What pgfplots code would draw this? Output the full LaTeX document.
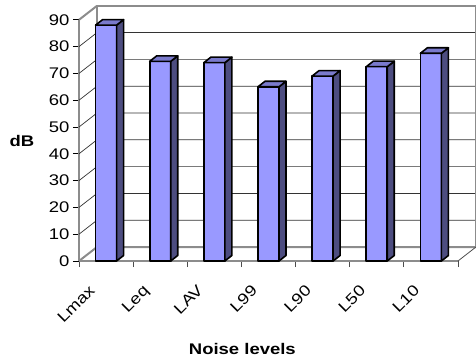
\documentclass[border=0pt]{standalone}
\usepackage{pgfplots}
\pgfplotsset{compat=1.18}
\usepackage{pgfplotstable}
\usepackage{fontspec}
\setmainfont{Liberation Sans}
\definecolor{barfront}{HTML}{9999FF}
\definecolor{bartop}{HTML}{7A7ACC}
\definecolor{barside}{HTML}{4D4D80}
\definecolor{wallgray}{HTML}{8C8C8C}

\pgfplotstableread{
x v
0.5 88
1.5 74.5
2.5 74
3.5 65
4.5 69
5.5 72.5
6.5 77.5
}\noisedata

\newcommand{\sx}[1]{\scalebox{1.2}[1]{#1}}

\begin{document}
\begin{tikzpicture}[font=\fontsize{15.4}{18}\selectfont]
\begin{axis}[
  x=54.14pt, y=2.68pt,
  xmin=0, xmax=7, ymin=0, ymax=90,
  clip=false,
  axis x line*=bottom, axis y line*=left,
  x axis line style={draw=wallgray, line width=1.2pt, -},
  y axis line style={draw=wallgray, line width=2pt, -},
  ytick={0,10,...,90},
  yticklabel={\sx{\pgfmathprintnumber[assume math mode=true]{\tick}}},
  ytick style={draw=black, line width=0.8pt},
  tick align=outside,
  major tick length=6pt,
  xtick={0,1,...,7},
  xticklabels={},
  xtick style={draw=black!70, line width=0.8pt},
  extra x ticks={0.5,1.5,2.5,3.5,4.5,5.5,6.5},
  extra x tick labels={\sx{Lmax},\sx{Leq},\sx{LAV},\sx{L99},\sx{L90},\sx{L50},\sx{L10}},
  extra x tick style={major tick length=0pt, tick style={draw=none},
    xticklabel style={xshift=-18pt, yshift=-18pt, rotate=45, anchor=north east}},
  xlabel={\bfseries\sx{Noise levels}},
  xlabel style={at={(axis description cs:0.431,-0.363)}, anchor=center},
  ylabel={\bfseries\sx{dB}},
  ylabel style={at={(axis description cs:-0.1504,0.4975)}, anchor=center, rotate=-90},
]
\coordinate (O) at (axis cs:0,0);
% back wall gridlines and side wall diagonals
\pgfplotsinvokeforeach{10,20,30,40,50,60,70,80}{
  \draw[black!80, line width=0.7pt] (axis cs:0,#1) -- ([shift={(18pt,14pt)}]axis cs:0,#1) -- ([shift={(18pt,14pt)}]axis cs:7,#1);
}
% back wall border
\draw[wallgray, line width=2pt, line join=round] ([shift={(18pt,14pt)}]axis cs:0,0) -- ([shift={(18pt,14pt)}]axis cs:0,90) -- ([shift={(18pt,14pt)}]axis cs:7,90);
\draw[wallgray, line width=1pt] ([shift={(18pt,14pt)}]axis cs:7,90) -- ([shift={(18pt,14pt)}]axis cs:7,0);
% floor
\draw[wallgray, line width=2pt, line join=round] (axis cs:0,0) -- ([shift={(18pt,14pt)}]axis cs:0,0) -- ([shift={(18pt,14pt)}]axis cs:7,0);
\draw[black!70, line width=0.8pt] (axis cs:7,0) -- ([shift={(18pt,14pt)}]axis cs:7,0);
% side wall top
\draw[wallgray, line width=2pt] (axis cs:0,90) -- ([shift={(18pt,14pt)}]axis cs:0,90);
% bars
\addplot[scatter, only marks, mark=*, mark size=0pt,
  visualization depends on={\thisrow{v} \as \barh},
  scatter/@pre marker code/.code={
    \pgfmathsetmacro{\hh}{\barh*2.68}
    \begin{scope}[shift={(5pt,3pt)}]
      \filldraw[fill=barfront, draw=black, line width=1.6pt, line join=round] (-10.5pt,-\hh pt) rectangle (10.5pt,0pt);
      \filldraw[fill=barside, draw=black, line width=1.6pt, line join=round] (10.5pt,0pt) -- (17.5pt,5.5pt) -- (17.5pt,5.5pt-\hh pt) -- (10.5pt,-\hh pt) -- cycle;
      \filldraw[fill=bartop, draw=black, line width=1.6pt, line join=round] (-10.5pt,0pt) -- (-3.5pt,5.5pt) -- (17.5pt,5.5pt) -- (10.5pt,0pt) -- cycle;
    \end{scope}
  },
  scatter/@post marker code/.code={}
] table[x=x, y=v] {\noisedata};
\end{axis}
\pgfresetboundingbox
\path ([shift={(-79pt,-101pt)}]O) rectangle ++(476pt,362pt);
\end{tikzpicture}
\end{document}
